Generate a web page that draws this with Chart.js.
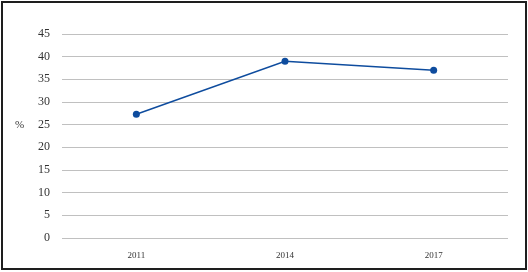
<!DOCTYPE html>
<html>
<head>
<meta charset="utf-8">
<script src="https://cdn.jsdelivr.net/npm/chart.js@4"></script>
<style>
    html, body { margin: 0; padding: 0; background: #fff; }
    #wrap { position: relative; width: 528px; height: 272px; }
    #frame {
        position: absolute; left: 1px; top: 1px;
        width: 522px; height: 265px;
        border: 2px solid #1e1e1e;
        pointer-events: none;
    }
    #pct {
        position: absolute; left: 15px; top: 118px;
        font: 11px "Liberation Serif", "DejaVu Serif", serif;
        color: #333;
    }
    canvas { position: absolute; left: 0; top: 0; }
</style>
</head>
<body>
<div id="wrap">
    <canvas id="chart" width="528" height="272"></canvas>
    <div id="frame"></div>
    <span id="pct">%</span>
</div>
<script>
    // Data
    const years = ['2011', '2014', '2017'];
    const shareValues = [27.3, 39.0, 37.0];
    const yTicks = [0, 5, 10, 15, 20, 25, 30, 35, 40, 45];

    const lineColor = '#0e4c9e';
    const fontFamily = '"Liberation Serif", "DejaVu Serif", serif';

    new Chart(document.getElementById('chart'), {
        type: 'line',
        data: {
            labels: years,
            datasets: [{
                data: shareValues,
                borderColor: lineColor,
                backgroundColor: lineColor,
                borderWidth: 1.5,
                pointRadius: 3.5,
                pointBackgroundColor: lineColor,
                pointBorderWidth: 0,
                tension: 0
            }]
        },
        options: {
            responsive: false,
            animation: false,
            layout: { padding: { top: 34, right: 20, left: 0, bottom: 0 } },
            plugins: {
                legend: { display: false },
                tooltip: { enabled: false }
            },
            scales: {
                x: {
                    offset: true,
                    grid: { display: false, drawTicks: false },
                    border: { display: false },
                    ticks: {
                        color: '#333',
                        font: { family: fontFamily, size: 9 },
                        padding: 12
                    },
                    afterFit: function(axis) { axis.height = 34; }
                },
                y: {
                    min: 0,
                    max: 45,
                    afterBuildTicks: function(axis) {
                        axis.ticks = yTicks.map(v => ({ value: v }));
                    },
                    grid: { color: '#c0c0c0', lineWidth: 1, drawTicks: false },
                    border: { display: false },
                    ticks: {
                        color: '#333',
                        font: { family: fontFamily, size: 12 },
                        padding: 12
                    },
                    afterFit: function(axis) { axis.width = 62; }
                }
            }
        }
    });
</script>
</body>
</html>
